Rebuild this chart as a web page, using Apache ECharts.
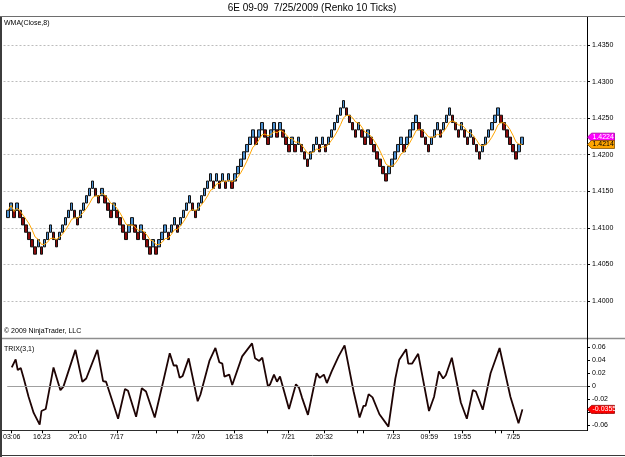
<!DOCTYPE html>
<html><head><meta charset="utf-8">
<script src="https://cdn.jsdelivr.net/npm/echarts@6/dist/echarts.min.js"></script>
<style>html,body{margin:0;padding:0;background:#fff;}#c{width:625px;height:457px;}</style>
</head><body><div id="c"></div>
<script>
const titleText = '6E 09-09  7/25/2009 (Renko 10 Ticks)';

// Renko bricks (10 ticks = 0.0010)
const brickOpen = [
1.4114,1.4124,1.4124,1.4124,1.4124,1.4114,1.4104,1.4094,1.4084,1.4074,
1.4074,1.4074,1.4074,1.4084,1.4094,1.4094,1.4084,1.4084,1.4094,1.4104,
1.4114,1.4124,1.4124,1.4114,1.4114,1.4124,1.4134,1.4144,1.4154,1.4154,
1.4144,1.4144,1.4144,1.4134,1.4124,1.4124,1.4124,1.4114,1.4104,1.4094,
1.4094,1.4104,1.4104,1.4094,1.4094,1.4094,1.4084,1.4074,1.4074,1.4074,
1.4074,1.4084,1.4094,1.4094,1.4094,1.4104,1.4104,1.4104,1.4114,1.4124,
1.4134,1.4134,1.4124,1.4124,1.4134,1.4144,1.4154,1.4164,1.4164,1.4164,
1.4164,1.4164,1.4164,1.4164,1.4164,1.4164,1.4174,1.4184,1.4194,1.4204,
1.4214,1.4224,1.4224,1.4224,1.4234,1.4234,1.4224,1.4224,1.4234,1.4234,
1.4234,1.4234,1.4224,1.4214,1.4214,1.4214,1.4214,1.4214,1.4204,1.4194,
1.4194,1.4204,1.4214,1.4214,1.4214,1.4214,1.4214,1.4224,1.4234,1.4244,
1.4254,1.4264,1.4264,1.4254,1.4244,1.4234,1.4234,1.4234,1.4224,1.4224,
1.4224,1.4214,1.4204,1.4194,1.4184,1.4174,1.4174,1.4184,1.4194,1.4204,
1.4214,1.4214,1.4214,1.4224,1.4234,1.4244,1.4244,1.4234,1.4224,1.4214,
1.4214,1.4224,1.4234,1.4234,1.4234,1.4244,1.4254,1.4254,1.4244,1.4234,
1.4234,1.4234,1.4224,1.4224,1.4224,1.4214,1.4204,1.4204,1.4214,1.4224,
1.4234,1.4244,1.4254,1.4254,1.4244,1.4234,1.4224,1.4214,1.4204,1.4204,
1.4214];
const brickClose = [
1.4124,1.4134,1.4114,1.4134,1.4114,1.4104,1.4094,1.4084,1.4074,1.4064,
1.4084,1.4064,1.4084,1.4094,1.4104,1.4084,1.4074,1.4094,1.4104,1.4114,
1.4124,1.4134,1.4114,1.4104,1.4124,1.4134,1.4144,1.4154,1.4164,1.4144,
1.4134,1.4154,1.4134,1.4124,1.4114,1.4134,1.4114,1.4104,1.4094,1.4084,
1.4104,1.4114,1.4094,1.4084,1.4104,1.4084,1.4074,1.4064,1.4084,1.4064,
1.4084,1.4094,1.4104,1.4084,1.4104,1.4114,1.4094,1.4114,1.4124,1.4134,
1.4144,1.4124,1.4114,1.4134,1.4144,1.4154,1.4164,1.4174,1.4154,1.4174,
1.4154,1.4174,1.4154,1.4174,1.4154,1.4174,1.4184,1.4194,1.4204,1.4214,
1.4224,1.4234,1.4214,1.4234,1.4244,1.4224,1.4214,1.4234,1.4244,1.4224,
1.4244,1.4224,1.4214,1.4204,1.4224,1.4204,1.4224,1.4204,1.4194,1.4184,
1.4204,1.4214,1.4224,1.4204,1.4224,1.4204,1.4224,1.4234,1.4244,1.4254,
1.4264,1.4274,1.4254,1.4244,1.4234,1.4224,1.4244,1.4224,1.4214,1.4234,
1.4214,1.4204,1.4194,1.4184,1.4174,1.4164,1.4184,1.4194,1.4204,1.4214,
1.4224,1.4204,1.4224,1.4234,1.4244,1.4254,1.4234,1.4224,1.4214,1.4204,
1.4224,1.4234,1.4244,1.4224,1.4244,1.4254,1.4264,1.4244,1.4234,1.4224,
1.4244,1.4224,1.4214,1.4234,1.4214,1.4204,1.4194,1.4214,1.4224,1.4234,
1.4244,1.4254,1.4264,1.4244,1.4234,1.4224,1.4214,1.4204,1.4194,1.4214,
1.4224];
// WMA(Close,8) per brick
const wma8 = [
1.41240,1.41307,1.41223,1.41270,1.41227,1.41173,1.41115,1.41054,1.40968,1.40873,
1.40843,1.40776,1.40773,1.40801,1.40854,1.40859,1.40843,1.40871,1.40912,1.40971,
1.41037,1.41115,1.41137,1.41134,1.41171,1.41215,1.41271,1.41337,1.41415,1.41437,
1.41434,1.41471,1.41448,1.41401,1.41334,1.41321,1.41268,1.41207,1.41134,1.41051,
1.41032,1.41043,1.41012,1.40965,1.40976,1.40946,1.40898,1.40834,1.40821,1.40768,
1.40773,1.40804,1.40854,1.40859,1.40909,1.40973,1.40979,1.41026,1.41082,1.41148,
1.41226,1.41248,1.41237,1.41268,1.41315,1.41371,1.41437,1.41515,1.41537,1.41601,
1.41607,1.41646,1.41629,1.41654,1.41629,1.41651,1.41696,1.41754,1.41829,1.41912,
1.42007,1.42104,1.42140,1.42204,1.42273,1.42282,1.42259,1.42279,1.42315,1.42301,
1.42334,1.42315,1.42276,1.42223,1.42221,1.42171,1.42173,1.42137,1.42084,1.42023,
1.42018,1.42037,1.42076,1.42071,1.42109,1.42104,1.42143,1.42196,1.42257,1.42329,
1.42412,1.42507,1.42537,1.42537,1.42504,1.42446,1.42434,1.42379,1.42309,1.42298,
1.42254,1.42198,1.42132,1.42054,1.41965,1.41873,1.41843,1.41843,1.41876,1.41934,
1.42012,1.42037,1.42101,1.42173,1.42248,1.42329,1.42348,1.42337,1.42301,1.42246,
1.42234,1.42246,1.42279,1.42268,1.42309,1.42371,1.42446,1.42462,1.42446,1.42404,
1.42409,1.42371,1.42309,1.42301,1.42254,1.42198,1.42132,1.42121,1.42134,1.42176,
1.42237,1.42312,1.42404,1.42437,1.42437,1.42404,1.42346,1.42268,1.42176,1.42143,
1.42143];
// TRIX(3,1) read points: brick position and value
const trixAt = [
0,1.3,2.0,3.0,4.0,5.6,7.3,9.3,9.9,11.3,
13.9,16.2,17.2,21.2,23.5,24.8,28.5,30.4,31.4,35.4,
37.7,38.7,41.4,43.3,44.7,47.6,50.3,52.6,53.9,54.9,
55.9,56.9,58.9,61.9,62.8,65.8,67.8,69.1,70.1,70.8,
72.4,73.4,76.7,80.0,81.0,82.4,83.4,85.3,86.0,87.3,
88.3,89.3,92.3,94.6,95.6,96.6,98.6,101.5,102.5,103.9,
104.9,106.5,108.8,110.8,113.8,115.8,117.1,117.8,118.8,120.1,
122.4,125.4,127.7,129.0,131.3,132.0,133.3,135.3,138.9,140.6,
142.2,143.6,144.5,146.5,149.5,151.5,153.5,154.5,156.8,159.4,
162.4,166.0,168.7,170];
const trixValue = [
0.029,0.0415,0.025,0.028,0.012,-0.016,-0.041,-0.059,-0.038,-0.035,
0.029,-0.006,-0.0005,0.056,0.007,0.012,0.056,0.008,0.007,-0.050,
-0.004,-0.007,-0.047,-0.003,-0.008,-0.048,0.005,0.051,0.032,0.032,
0.013,0.016,0.043,-0.023,-0.013,0.039,0.059,0.037,0.035,0.015,
0.018,0.002,0.046,0.066,0.043,0.039,0.044,-0.0005,0.003,0.018,
0.007,0.015,-0.035,0.003,-0.002,-0.017,-0.044,0.020,0.013,0.018,
0.005,0.023,0.046,0.063,-0.008,-0.048,-0.030,-0.030,-0.012,-0.017,
-0.043,-0.062,0.012,0.041,0.057,0.035,0.035,0.050,-0.038,-0.016,
0.023,0.012,0.017,0.044,-0.025,-0.050,-0.006,-0.008,-0.036,0.020,
0.059,-0.016,-0.057,-0.0355];
// time axis ticks (brick index) and labels
const tickAt = [0,10,22,35,48,55,62,74,85,92,104,115,117,127,139,150,161,163,167];
const tickText = ['03:06','16:23','20:10','7/17','','','7/20','16:18','','7/21','20:32','','','7/23','09:59','19:55','','','7/25'];
const lastPrice = 1.4224, lastWma = 1.4214, lastTrix = -0.0355;

const FONT = "'Liberation Sans', Arial, sans-serif";
const PAD = 1, TOTAL = 193;
const N = brickClose.length;
const cats = [], candle = [], wmaData = [];
for (let i = 0; i < TOTAL; i++) {
  cats.push('c' + i);
  const b = i - PAD;
  if (b >= 0 && b < N) {
    const o = brickOpen[b], c = brickClose[b];
    candle.push([o, c, Math.min(o, c), Math.max(o, c)]);
    wmaData.push(wma8[b]);
  } else { candle.push('-'); wmaData.push('-'); }
}
const labelMap = {}; const tickSet = new Set();
tickAt.forEach((b, k) => { labelMap[b + PAD] = tickText[k]; tickSet.add(b + PAD); });
const trixData = trixAt.map((b, k) => [b + PAD, trixValue[k]]);

const chart = echarts.init(document.getElementById('c'), null, {renderer: 'canvas'});
const gridL = 3.5, gridR = 38;
chart.setOption({
  animation: false,
  backgroundColor: '#fff',
  textStyle: {fontFamily: FONT},
  grid: [
    {left: gridL, right: gridR, top: 45, height: 256},
    {left: gridL, right: gridR, top: 347.3, height: 78}
  ],
  xAxis: [
    {type: 'category', gridIndex: 0, data: cats, show: false, boundaryGap: true},
    {type: 'category', gridIndex: 1, data: cats, boundaryGap: true, offset: 5, position: 'bottom',
      axisLine: {show: false, onZero: false},
      axisTick: {show: true, alignWithLabel: true, length: 3, interval: (idx) => tickSet.has(idx), lineStyle: {color: '#000'}},
      axisLabel: {interval: 0, margin: 3, fontSize: 7, color: '#000', fontFamily: FONT,
        formatter: (v, idx) => labelMap[idx] || ''},
      splitLine: {show: false}},
    {type: 'value', gridIndex: 1, min: -0.5, max: TOTAL - 0.5, show: false, axisLine: {onZero: false}}
  ],
  yAxis: [
    {type: 'value', gridIndex: 0, position: 'right', min: 1.4, max: 1.435, interval: 0.005,
      axisLine: {show: false, onZero: false},
      axisTick: {show: true, length: 3, lineStyle: {color: '#000'}},
      axisLabel: {fontSize: 7, color: '#000', margin: 5, fontFamily: FONT, formatter: v => v.toFixed(4)},
      splitLine: {show: true, lineStyle: {color: '#bcbcbc', type: [2, 2], width: 1}}},
    {type: 'value', gridIndex: 1, position: 'right', min: -0.06, max: 0.06, interval: 0.02,
      axisLine: {show: false, onZero: false},
      axisTick: {show: true, length: 3, lineStyle: {color: '#000'}},
      axisLabel: {fontSize: 7, color: '#000', margin: 5, fontFamily: FONT, formatter: v => String(+v.toFixed(2))},
      splitLine: {show: false}}
  ],
  series: [
    {type: 'candlestick', xAxisIndex: 0, yAxisIndex: 0, data: candle, barWidth: 3,
      itemStyle: {color: '#4a8fd0', color0: '#8b0a0a', borderColor: '#111', borderColor0: '#111', borderWidth: 1}},
    {type: 'line', xAxisIndex: 0, yAxisIndex: 0, data: wmaData, showSymbol: false, symbol: 'none',
      lineStyle: {color: '#ffa500', width: 1}},
    {type: 'line', xAxisIndex: 2, yAxisIndex: 1, data: trixData, showSymbol: false, symbol: 'none', clip: false,
      lineStyle: {color: '#1e0404', width: 1.8},
      markLine: {silent: true, symbol: 'none', label: {show: false},
        lineStyle: {color: '#a0a0a0', type: 'solid', width: 1}, data: [{yAxis: 0}]}}
  ]
});

function tag(y, text, fill, stroke, textColor) {
  const x0 = 587.5, h = 4;
  return [
    {type: 'polygon', z: 100, shape: {points: [[x0, y], [x0 + 4, y - h], [x0 + 27, y - h], [x0 + 27, y + h], [x0 + 4, y + h]]},
      style: {fill: fill, stroke: stroke, lineWidth: 0.8}},
    {type: 'text', z: 101, x: x0 + 5, y: y, style: {text: text, fill: textColor, font: '7px ' + FONT, verticalAlign: 'middle', align: 'left'}}
  ];
}
const yLast = chart.convertToPixel({yAxisIndex: 0}, lastPrice);
const yWma = chart.convertToPixel({yAxisIndex: 0}, lastWma);
const yTrix = chart.convertToPixel({yAxisIndex: 1}, lastTrix);

chart.setOption({
  graphic: [
    {type: 'text', x: 312, y: 8, style: {text: titleText, fill: '#000', font: '10px ' + FONT, align: 'center', verticalAlign: 'middle'}},
    {type: 'line', shape: {x1: 0, y1: 16.5, x2: 625, y2: 16.5}, style: {stroke: '#6e6e6e', lineWidth: 1}},
    {type: 'text', x: 4, y: 23, style: {text: 'WMA(Close,8)', fill: '#000', font: '7px ' + FONT, verticalAlign: 'middle'}},
    {type: 'text', x: 4, y: 331.5, style: {text: '\u00a9 2009 NinjaTrader, LLC', fill: '#000', font: '7px ' + FONT, verticalAlign: 'middle'}},
    {type: 'line', shape: {x1: 0, y1: 338.5, x2: 625, y2: 338.5}, style: {stroke: '#8e8e8e', lineWidth: 1.6}},
    {type: 'text', x: 4, y: 349, style: {text: 'TRIX(3,1)', fill: '#000', font: '7px ' + FONT, verticalAlign: 'middle'}},
    {type: 'line', shape: {x1: 0, y1: 430.5, x2: 587.5, y2: 430.5}, style: {stroke: '#2e2e2e', lineWidth: 1}},
    {type: 'line', shape: {x1: 587.5, y1: 17, x2: 587.5, y2: 431}, style: {stroke: '#000', lineWidth: 1}},
    {type: 'line', shape: {x1: 0, y1: 455.5, x2: 625, y2: 455.5}, style: {stroke: '#3a3a3a', lineWidth: 1}},
    {type: 'rect', shape: {x: 0, y: 17, width: 2, height: 440}, style: {fill: '#3c3c3c'}},
    ...tag(yLast, lastPrice.toFixed(4), '#ff00ff', '#a000a0', '#fff'),
    ...tag(yWma, lastWma.toFixed(4), '#ffa500', '#805000', '#000'),
    ...tag(yTrix, lastTrix.toFixed(4), '#ff0000', '#900000', '#fff')
  ]
});
</script></body></html>
